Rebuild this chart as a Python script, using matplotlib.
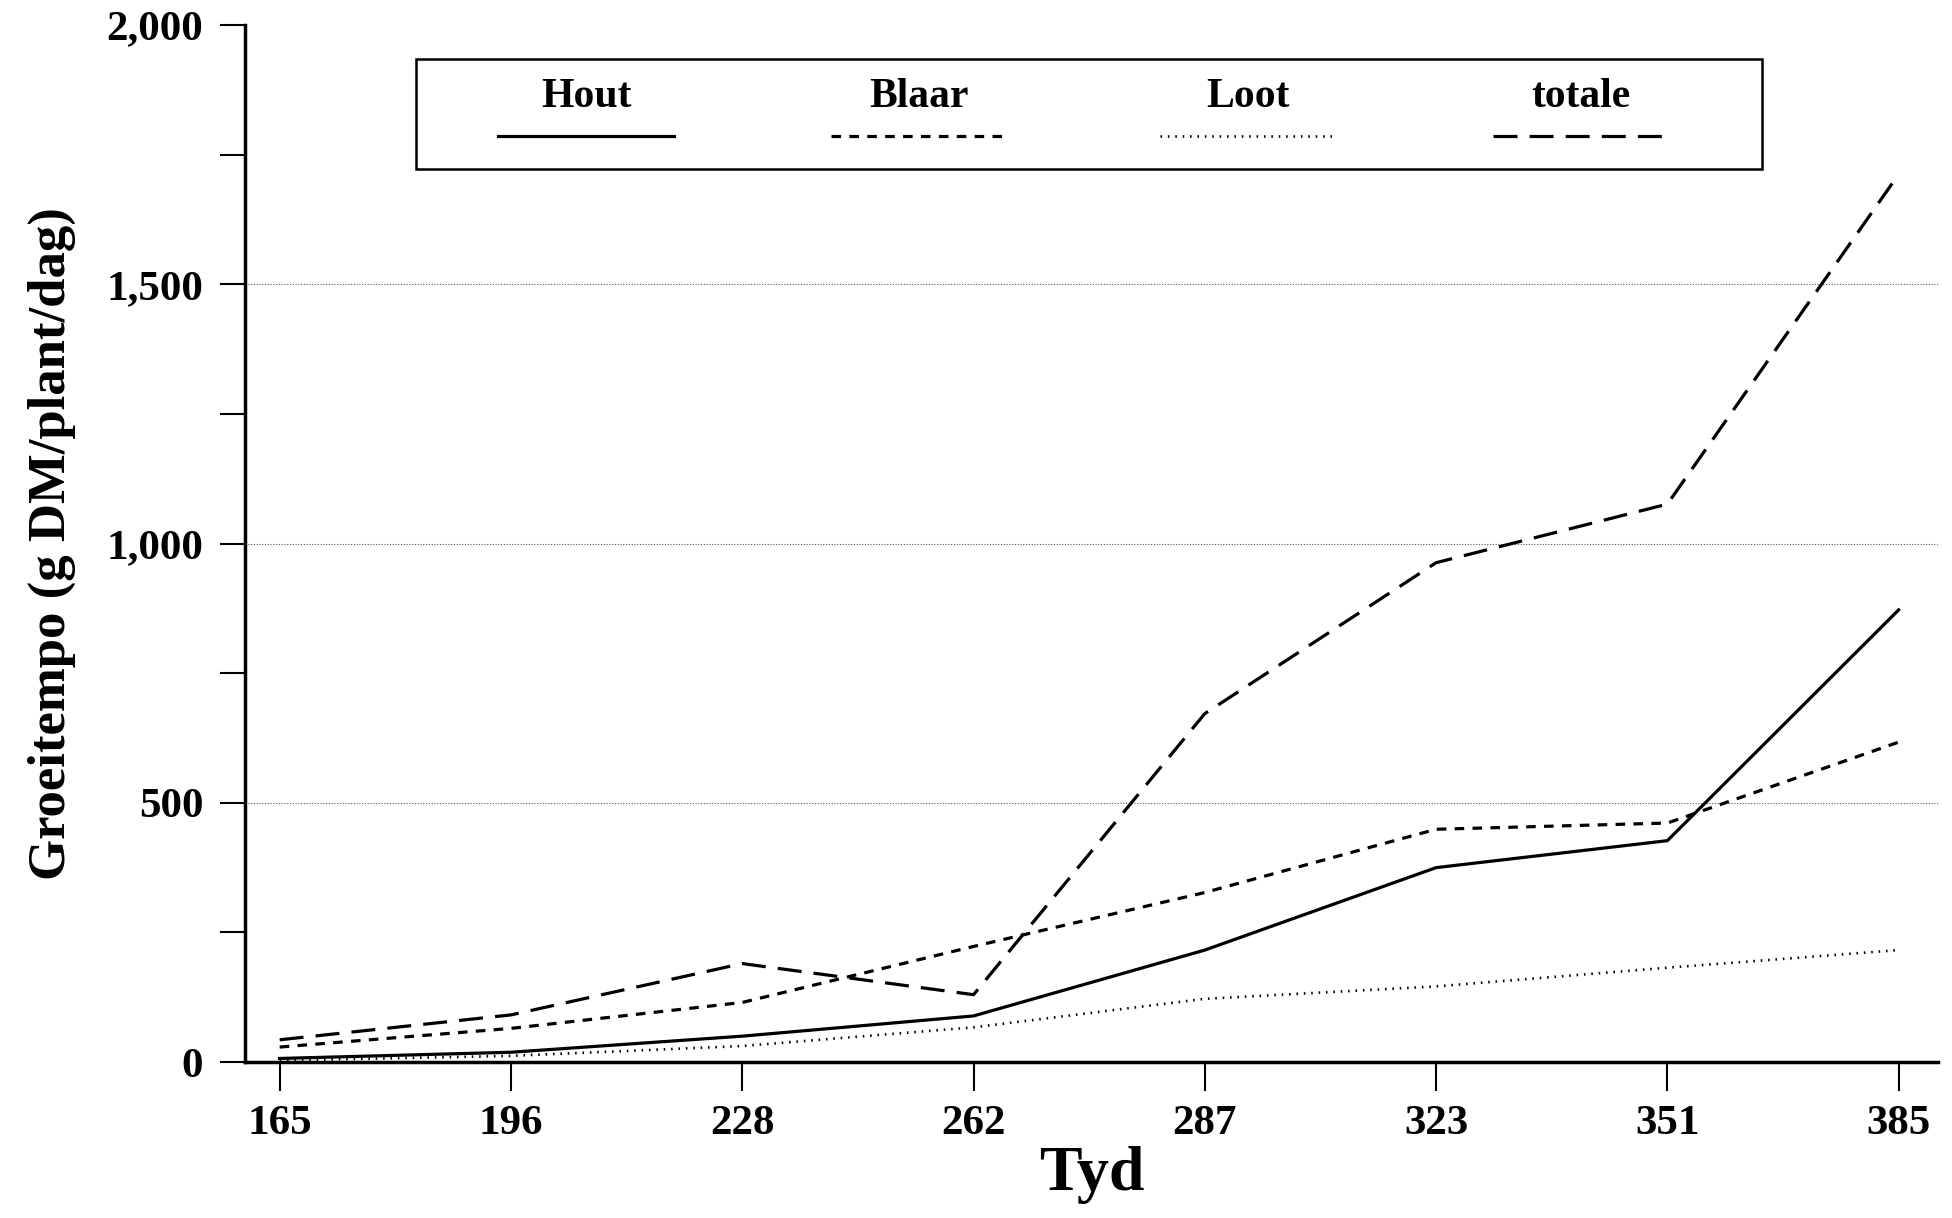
import matplotlib
matplotlib.use("Agg")
import matplotlib.pyplot as plt
import numpy as np
from matplotlib.patches import Rectangle
from matplotlib.ticker import FuncFormatter, MultipleLocator

plt.rcParams["font.family"] = ["Liberation Serif", "DejaVu Serif"]

# Data
days = ["165", "196", "228", "262", "287", "323", "351", "385"]
hout = [7, 19, 50, 89, 216, 375, 427, 872]
blaar = [29, 65, 115, 223, 327, 449, 461, 617]
loot = [3, 12, 31, 67, 122, 146, 182, 216]
totale = [43, 91, 190, 130, 672, 963, 1076, 1712]

series_names = ["Hout", "Blaar", "Loot", "totale"]
series_values = [hout, blaar, loot, totale]
styles = ["-", (0, (3, 2.6)), (0, (0.6, 2.2)), (0, (7.5, 3.8))]
widths = [2.3, 2.3, 1.9, 2.3]

x = np.arange(len(days))

fig = plt.figure(figsize=(19.52, 12.18), dpi=100)
ax = fig.add_axes([0.1255, 0.128, 0.8673, 0.8515])

for vals, ls, lw in zip(series_values, styles, widths):
    ax.plot(x, vals, color="black", linestyle=ls, linewidth=lw)

# dotted grid lines
for yv in [500, 1000, 1500]:
    ax.axhline(yv, color="#555555", linestyle=(0, (1, 1.5)), linewidth=0.8, zorder=0)

ax.set_xlim(-0.15, 7.17)
ax.set_ylim(0, 2000)
ax.set_xticks(x)
ax.set_xticklabels(days)
ax.yaxis.set_major_locator(MultipleLocator(500))
ax.yaxis.set_minor_locator(MultipleLocator(250))
ax.yaxis.set_major_formatter(FuncFormatter(lambda v, p: "{:,.0f}".format(v)))

for s in ["top", "right"]:
    ax.spines[s].set_visible(False)
for s in ["left", "bottom"]:
    ax.spines[s].set_linewidth(2.5)

ax.tick_params(axis="y", which="both", direction="out", length=18, width=1.5,
               labelsize=31, pad=12)
ax.tick_params(axis="x", direction="out", length=21, width=1.5,
               labelsize=31, pad=10)
for lab in ax.get_xticklabels() + ax.get_yticklabels():
    lab.set_fontweight("bold")

ax.set_ylabel("Groeitempo (g DM/plant/dag)", fontsize=38, fontweight="bold",
              labelpad=22)
ax.set_xlabel("Tyd", fontsize=46, fontweight="bold", labelpad=2)

# legend drawn as a box with labels above line samples
box = Rectangle((0.1011, 0.8607), 0.7951, 0.1069, transform=ax.transAxes,
                fill=False, edgecolor="black", linewidth=1.8, clip_on=False)
ax.add_patch(box)
centers = [0.2014, 0.3979, 0.5922, 0.7893]
for cx, name, ls, lw in zip(centers, series_names, styles, widths):
    ax.text(cx, 0.931, name, transform=ax.transAxes, ha="center", va="center",
            fontsize=30, fontweight="bold")
    ax.plot([cx - 0.052, cx + 0.052], [0.893, 0.893], transform=ax.transAxes,
            color="black", linestyle=ls, linewidth=lw, clip_on=False)

fig.savefig("out.png", dpi=100)
